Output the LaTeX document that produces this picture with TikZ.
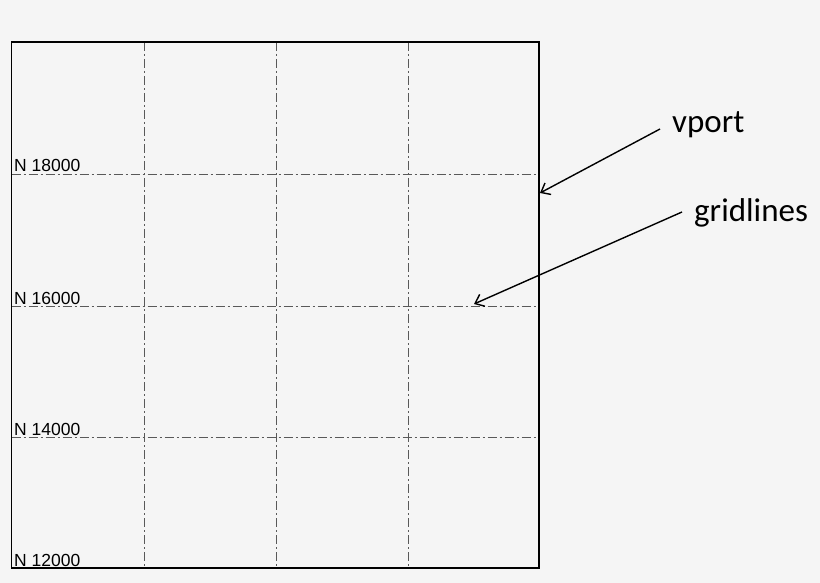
\documentclass[tikz,border=0pt]{standalone}
\usepackage{fontspec}
\setmainfont{Liberation Sans}
\newfontfamily\calfont{Carlito}
\usetikzlibrary{positioning,calc,arrows.meta}

\begin{document}
\begin{tikzpicture}[x=1pt, y=-1pt,
        grid line/.style={draw=black!65, line width=0.9pt, dash pattern=on 9pt off 3pt on 2pt off 3pt},
        north label/.style={anchor=base west, inner sep=0pt, font=\fontsize{17.5}{17.5}\selectfont},
        callout/.style={anchor=base west, inner sep=0pt, font=\calfont\fontsize{33}{33}\selectfont},
        line/.style={draw, -{Straight Barb[length=8pt, width=13pt]}, line width=1.4pt}]

        \fill [black!4] (0,0) rectangle (820,583);
        \useasboundingbox (0,0) rectangle (820,583);

        \coordinate (nw) at (11.5,42);
        \coordinate (se) at (539,568);

        % gridlines
        \foreach \x in {144,276,408}
            \path [grid line] (\x,42) -- (\x,568);
        \foreach \y in {174,306,437}
            \path [grid line] (11.5,\y) -- (539,\y);
        \draw [line width=1.6pt] (nw) rectangle (se);

        \foreach \y/\n in {172/18000, 304/16000, 435/14000, 566/12000}
            \node [north label] (n\n) at (14,\y) {N \n};

        \node [callout] (vport) at (672,133) {vport};
        \node [callout] (gridlines) at (694,222) {gridlines};
        \coordinate (vport end) at (540,193);
        \coordinate (grid end) at (474,304);

        \path [line] ($(vport.base west)+(-12,-4)$) -- (vport end);
        \path [line] ($(gridlines.base west)+(-12,-10)$) -- (grid end);
    \end{tikzpicture}
\end{document}
